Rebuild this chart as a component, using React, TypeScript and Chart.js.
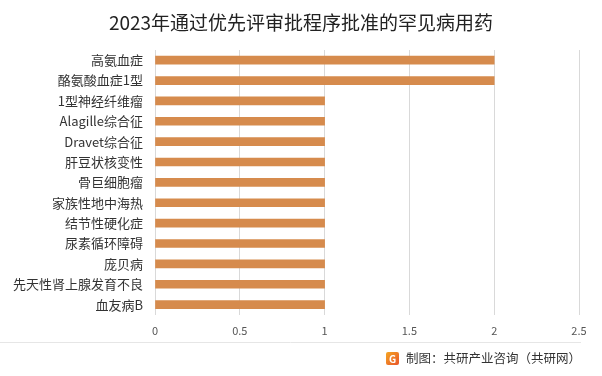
import React, { useEffect, useRef } from "react";
import { Chart, registerables } from "chart.js";

Chart.register(...registerables);

const titleText = "2023年通过优先评审批程序批准的罕见病用药";
const categories = [
  "高氨血症",
  "酪氨酸血症1型",
  "1型神经纤维瘤",
  "Alagille综合征",
  "Dravet综合征",
  "肝豆状核变性",
  "骨巨细胞瘤",
  "家族性地中海热",
  "结节性硬化症",
  "尿素循环障碍",
  "庞贝病",
  "先天性肾上腺发育不良",
  "血友病B",
];
const values = [2, 2, 1, 1, 1, 1, 1, 1, 1, 1, 1, 1, 1];
const footerText = "制图：共研产业咨询（共研网）";

const FONT = "'Noto Sans CJK SC', 'Noto Sans', sans-serif";

const decorPlugin = {
  id: "decor",
  afterDraw(chart: any) {
    const ctx = chart.ctx;
    const w = chart.width;
    ctx.save();
    // title
    ctx.fillStyle = "#222";
    ctx.font = `19px ${FONT}`;
    ctx.textAlign = "center";
    ctx.textBaseline = "middle";
    ctx.fillText(titleText, w / 2, 23);
    // footer separator
    ctx.strokeStyle = "#e6e6e6";
    ctx.lineWidth = 1;
    ctx.beginPath();
    ctx.moveTo(0, 342.5);
    ctx.lineTo(581, 342.5);
    ctx.stroke();
    // footer text
    ctx.font = `12.5px ${FONT}`;
    ctx.fillStyle = "#333";
    ctx.textAlign = "right";
    ctx.fillText(footerText, 581, 358);
    const tw = ctx.measureText(footerText).width;
    // logo
    const lx = 581 - tw - 20;
    const ly = 352;
    const g = ctx.createLinearGradient(lx, ly, lx + 13, ly + 13);
    g.addColorStop(0, "#f5a623");
    g.addColorStop(1, "#e8542a");
    ctx.fillStyle = g;
    ctx.beginPath();
    (ctx as any).roundRect ? ctx.roundRect(lx, ly, 13, 13, 2) : ctx.rect(lx, ly, 13, 13);
    ctx.fill();
    ctx.fillStyle = "#fff";
    ctx.font = `bold 10px ${FONT}`;
    ctx.textAlign = "center";
    ctx.fillText("G", lx + 6.5, ly + 7);
    ctx.restore();
  },
};

export default function App() {
  const ref = useRef<HTMLCanvasElement>(null);
  useEffect(() => {
    if (!ref.current) return;
    const chart = new Chart(ref.current, {
      type: "bar",
      data: {
        labels: categories,
        datasets: [
          {
            data: values,
            backgroundColor: "#D68B4D",
            barThickness: 8,
          },
        ],
      },
      options: {
        indexAxis: "y",
        responsive: false,
        animation: false,
        layout: { padding: { top: 50, right: 23, bottom: 30, left: 0 } },
        plugins: {
          legend: { display: false },
          title: { display: false },
          tooltip: { enabled: false },
        },
        scales: {
          x: {
            min: 0,
            max: 2.5,
            ticks: {
              stepSize: 0.5,
              color: "#555",
              font: { family: FONT, size: 11 },
              padding: 9,
              callback: (v: any) => String(Number(v)),
            },
            grid: { color: "#d9d9d9", drawTicks: false },
            border: { display: false },
          },
          y: {
            afterFit: (s: any) => {
              s.width = 155;
            },
            ticks: {
              color: "#333",
              font: { family: FONT, size: 13 },
              padding: 12,
              autoSkip: false,
            },
            grid: { display: false, drawTicks: false },
            border: { display: true, color: "#d9d9d9" },
          },
        },
      },
      plugins: [decorPlugin],
    });
    return () => chart.destroy();
  }, []);
  return (
    <div style={{ position: "fixed", left: 0, top: 0, width: 602, height: 376, background: "#fff" }}>
      <canvas ref={ref} width={602} height={376} />
    </div>
  );
}
